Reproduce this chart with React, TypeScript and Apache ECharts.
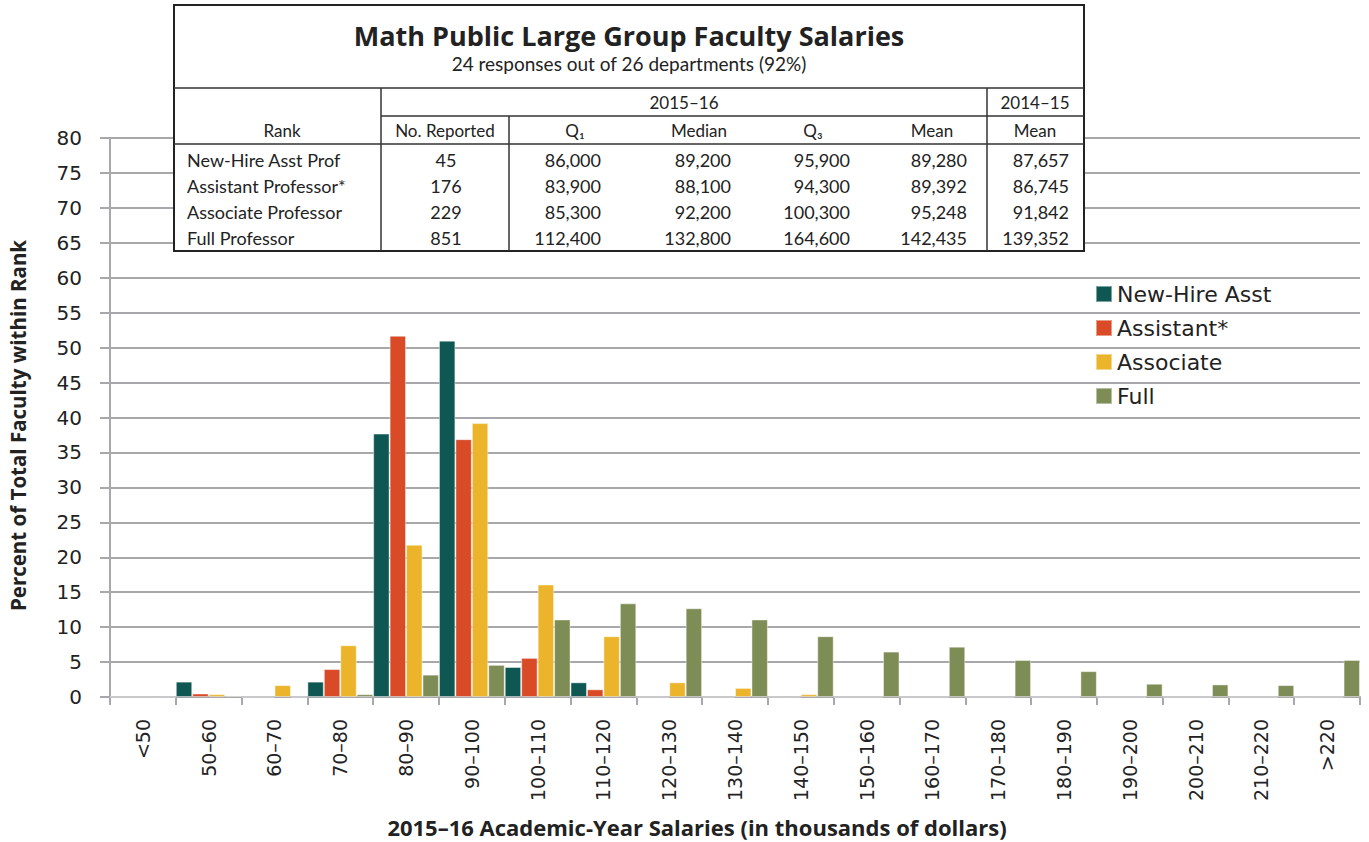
import React, { useEffect, useRef } from "react";
import * as echarts from "echarts";

const categories = ["<50", "50–60", "60–70", "70–80", "80–90", "90–100", "100–110", "110–120", "120–130", "130–140", "140–150", "150–160", "160–170", "170–180", "180–190", "190–200", "200–210", "210–220", ">220"];
const seriesNames = ["New-Hire Asst", "Assistant*", "Associate", "Full"];
const newHire = [0, 2.2, 0, 2.2, 37.7, 51.0, 4.3, 2.1, 0, 0, 0, 0, 0, 0, 0, 0, 0, 0, 0];
const assistant = [0, 0.5, 0, 4.0, 51.7, 36.9, 5.6, 1.1, 0, 0, 0, 0, 0, 0, 0, 0, 0, 0, 0];
const associate = [0, 0.4, 1.7, 7.4, 21.8, 39.2, 16.1, 8.7, 2.1, 1.3, 0.4, 0, 0, 0, 0, 0, 0, 0, 0];
const full = [0, 0.2, 0, 0.4, 3.2, 4.6, 11.1, 13.4, 12.7, 11.1, 8.7, 6.5, 7.2, 5.3, 3.7, 1.9, 1.8, 1.7, 5.3];
const colors = ["#0E5752", "#D94A27", "#EBB42A", "#7E8C55"];

const tableTitle = "Math Public Large Group Faculty Salaries";
const tableSubtitle = "24 responses out of 26 departments (92%)";
const ranks = ["New-Hire Asst Prof", "Assistant Professor*", "Associate Professor", "Full Professor"];
const noReported = ["45", "176", "229", "851"];
const q1 = ["86,000", "83,900", "85,300", "112,400"];
const median = ["89,200", "88,100", "92,200", "132,800"];
const q3 = ["95,900", "94,300", "100,300", "164,600"];
const mean = ["89,280", "89,392", "95,248", "142,435"];
const prevMean = ["87,657", "86,745", "91,842", "139,352"];

const GRID = "#A7A7AC";
const TF = "Lato, 'Open Sans', sans-serif";
const BF = "'Open Sans', Lato, sans-serif";
const VF = "'DejaVu Sans', Verdana, sans-serif";

function buildTable(): any[] {
  const els: any[] = [];
  const L = 174, R = 1084, T = 5, B = 251;
  els.push({ type: "rect", shape: { x: L, y: T, width: R - L, height: B - T }, style: { fill: "#fff", stroke: "#222", lineWidth: 2 }, z: 10 });
  const line = (x1: number, y1: number, x2: number, y2: number) =>
    els.push({ type: "line", shape: { x1, y1, x2, y2 }, style: { stroke: "#333", lineWidth: 1.5 }, z: 11 });
  line(L, 88, R, 88);
  line(381, 116, R, 116);
  line(L, 144, R, 144);
  line(381, 88, 381, B);
  line(509, 116, 509, B);
  line(987, 88, 987, B);
  const text = (t: string, x: number, y: number, size: number, align: string, weight = "normal", fam = TF) =>
    els.push({
      type: "text",
      x, y, z: 12,
      style: { text: t, fill: "#222", fontSize: size, fontFamily: fam, fontWeight: weight, textAlign: align, textVerticalAlign: "middle" },
    });
  text(tableTitle, 629, 35, 27, "center", "bold", BF);
  text(tableSubtitle, 629, 63, 19, "center");
  text("2015–16", 684, 102, 17, "center");
  text("2014–15", 1035, 102, 17, "center");
  text("Rank", 282, 130, 17, "center");
  text("No. Reported", 445, 130, 17, "center");
  text("Q₁", 575, 130, 17, "center");
  text("Median", 699, 130, 17, "center");
  text("Q₃", 813, 130, 17, "center");
  text("Mean", 932, 130, 17, "center");
  text("Mean", 1035, 130, 17, "center");
  const rowY = [160, 186, 212, 238];
  ranks.forEach((r, i) => {
    const y = rowY[i];
    text(r, 187, y, 18, "left");
    text(noReported[i], 446, y, 18, "center");
    text(q1[i], 601, y, 18, "right");
    text(median[i], 731, y, 18, "right");
    text(q3[i], 850, y, 18, "right");
    text(mean[i], 967, y, 18, "right");
    text(prevMean[i], 1069, y, 18, "right");
  });
  return els;
}

export default function App() {
  const ref = useRef<HTMLDivElement>(null);
  useEffect(() => {
    if (!ref.current) return;
    const chart = echarts.init(ref.current, undefined, { renderer: "svg" });
    const data = [newHire, assistant, associate, full];
    chart.setOption({
      animation: false,
      backgroundColor: "#fff",
      grid: { left: 110, right: 9, top: 138, bottom: 145, containLabel: false, outerBoundsMode: "none" },
      legend: {
        orient: "vertical",
        left: 1095,
        top: 283,
        itemWidth: 16,
        itemHeight: 16,
        itemGap: 12,
        icon: "rect",
        padding: 0,
        textStyle: { fontSize: 22, fontFamily: VF, color: "#222" },
        data: seriesNames,
      },
      xAxis: {
        type: "category",
        data: categories,
        axisLine: { lineStyle: { color: GRID, width: 2 } },
        axisTick: { show: true, length: 8, lineStyle: { color: GRID, width: 2 } },
        axisLabel: { rotate: 90, margin: 22, fontSize: 19, fontFamily: VF, color: "#222", interval: 0 },
        name: "2015–16 Academic-Year Salaries (in thousands of dollars)",
        nameLocation: "middle",
        nameGap: 119,
        nameTextStyle: { fontSize: 22, fontWeight: "bold", fontFamily: BF, color: "#222", padding: [0, 76, 0, 0] },
      },
      yAxis: {
        type: "value",
        min: 0,
        max: 80,
        interval: 5,
        axisLine: { show: true, lineStyle: { color: GRID, width: 2 } },
        axisTick: { show: true, length: 10, lineStyle: { color: GRID, width: 2 } },
        splitLine: { show: true, lineStyle: { color: GRID, width: 2 } },
        axisLabel: { margin: 28, fontSize: 20, fontFamily: VF, color: "#222" },
        name: "Percent of Total Faculty within Rank",
        nameLocation: "middle",
        nameGap: 82,
        nameTextStyle: { fontSize: 20.5, fontWeight: "bold", fontFamily: BF, color: "#222", padding: [0, 16, 0, 0] },
      },
      series: seriesNames.map((n, i) => ({
        name: n,
        type: "bar",
        data: data[i],
        barGap: "0%",
        barCategoryGap: "0%",
        itemStyle: { color: colors[i], borderColor: "rgba(255,255,255,0.45)", borderWidth: 1 },
      })),
      graphic: buildTable(),
    });
    return () => chart.dispose();
  }, []);
  return <div ref={ref} style={{ position: "fixed", left: 0, top: 0, width: 1369, height: 842 }} />;
}
